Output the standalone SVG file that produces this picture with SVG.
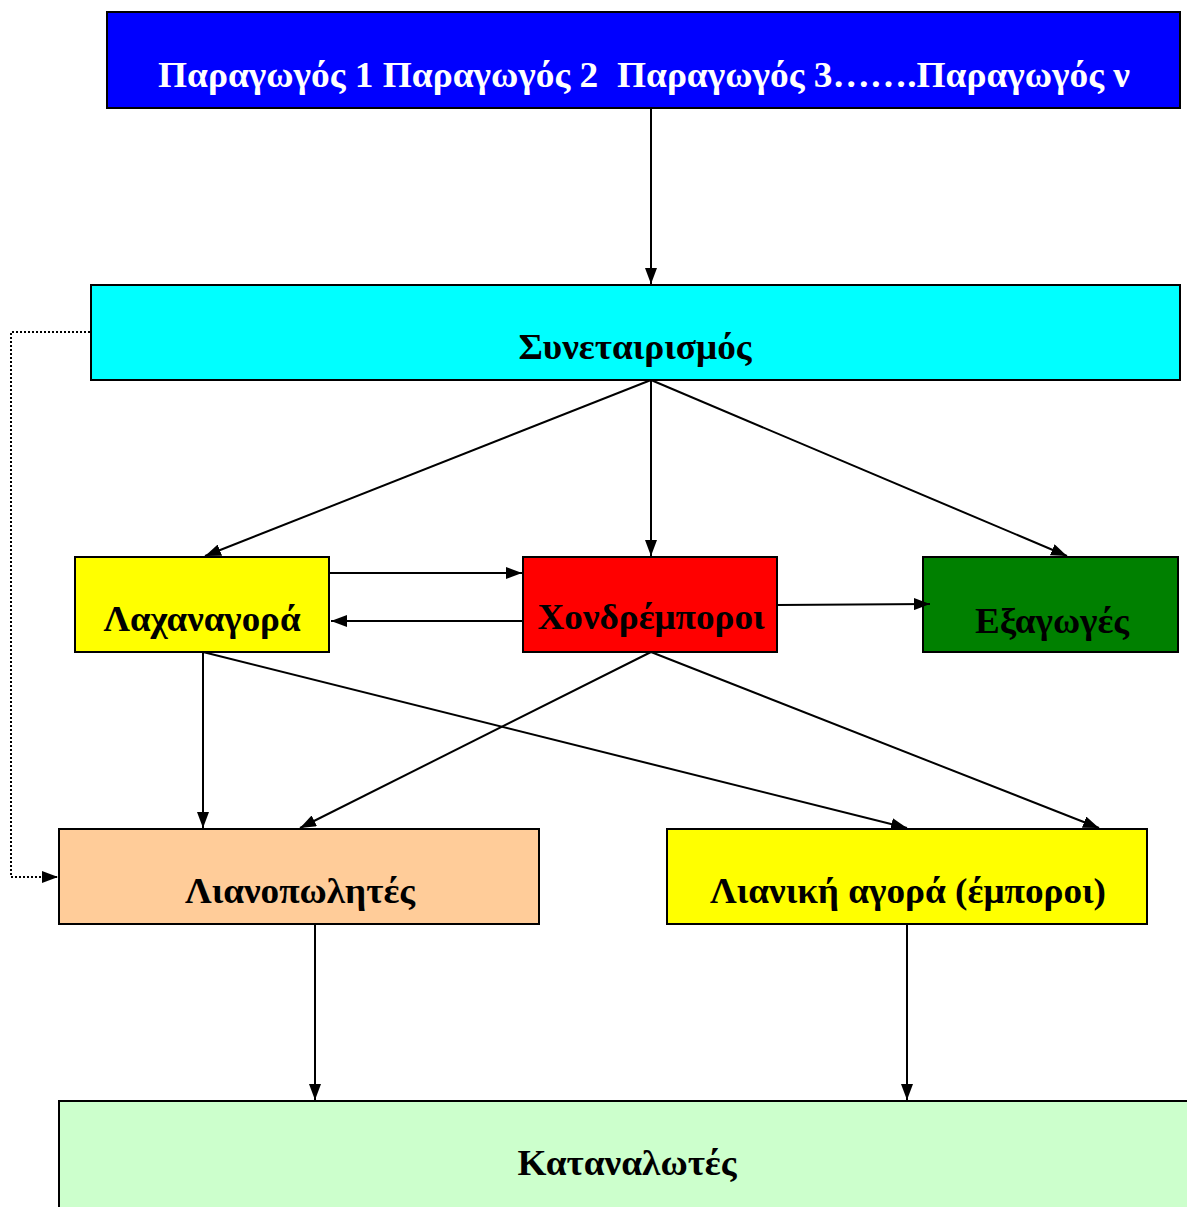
<svg xmlns="http://www.w3.org/2000/svg" width="1187" height="1207" viewBox="0 0 1187 1207">
<defs>
<marker id="ah" viewBox="0 0 16 12" refX="16" refY="6" markerWidth="16" markerHeight="12" markerUnits="userSpaceOnUse" orient="auto">
<path d="M0,0 L16,6 L0,12 Z" fill="#000"/>
</marker>
</defs>
<style>
.box{stroke:#000;stroke-width:2}
.t{font-family:"Liberation Serif","Times New Roman",serif;font-weight:bold;font-size:36px;text-anchor:middle}
.c{stroke:#000;stroke-width:2;fill:none;marker-end:url(#ah)}
.d{stroke:#000;stroke-width:2;fill:none;stroke-dasharray:2 2;marker-end:url(#ah)}
</style>
<rect width="1187" height="1207" fill="#fff"/>
<g id="producers"><rect class="box" x="107" y="12" width="1073" height="96" fill="#0000FF"/><text class="t" x="644" y="87" fill="#fff" xml:space="preserve" textLength="972" lengthAdjust="spacingAndGlyphs">Παραγωγός 1 Παραγωγός 2  Παραγωγός 3…….Παραγωγός ν</text></g>
<g id="coop"><rect class="box" x="91" y="285" width="1089" height="95" fill="#00FFFF"/><text class="t" x="635" y="359" textLength="233" lengthAdjust="spacingAndGlyphs">Συνεταιρισμός</text></g>
<g id="market"><rect class="box" x="75" y="557" width="254" height="95" fill="#FFFF00"/><text class="t" x="202" y="631" textLength="197" lengthAdjust="spacingAndGlyphs">Λαχαναγορά</text></g>
<g id="wholesale"><rect class="box" x="523" y="557" width="254" height="95" fill="#FF0000"/><text class="t" x="651" y="629" textLength="227" lengthAdjust="spacingAndGlyphs">Χονδρέμποροι</text></g>
<g id="exports"><rect class="box" x="923" y="557" width="255" height="95" fill="#008000"/><text class="t" x="1052" y="633" textLength="154" lengthAdjust="spacingAndGlyphs">Εξαγωγές</text></g>
<g id="retailers"><rect class="box" x="59" y="829" width="480" height="95" fill="#FFCC99"/><text class="t" x="300" y="903" textLength="230" lengthAdjust="spacingAndGlyphs">Λιανοπωλητές</text></g>
<g id="retail"><rect class="box" x="667" y="829" width="480" height="95" fill="#FFFF00"/><text class="t" x="908" y="903" textLength="396" lengthAdjust="spacingAndGlyphs">Λιανική αγορά (έμποροι)</text></g>
<g id="consumers"><rect class="box" x="59" y="1101" width="1140" height="120" fill="#CCFFCC"/><text class="t" x="627" y="1175" textLength="219" lengthAdjust="spacingAndGlyphs">Καταναλωτές</text></g>
<g id="connectors">
<line class="c" x1="651" y1="108" x2="651" y2="284"/>
<line class="c" x1="651" y1="380" x2="205" y2="556"/>
<line class="c" x1="651" y1="380" x2="651" y2="556"/>
<line class="c" x1="651" y1="380" x2="1067" y2="556"/>
<line class="c" x1="329" y1="573" x2="522" y2="573"/>
<line class="c" x1="523" y1="621" x2="331" y2="621"/>
<line class="c" x1="777" y1="605" x2="930" y2="604"/>
<line class="c" x1="203" y1="652" x2="203" y2="828"/>
<line class="c" x1="651" y1="652" x2="300" y2="828"/>
<line class="c" x1="203" y1="652" x2="907" y2="828"/>
<line class="c" x1="651" y1="652" x2="1099" y2="828"/>
<line class="c" x1="315" y1="924" x2="315" y2="1100"/>
<line class="c" x1="907" y1="924" x2="907" y2="1100"/>
<polyline class="d" points="90,332 11,332 11,877 58,877"/>
</g>
</svg>
